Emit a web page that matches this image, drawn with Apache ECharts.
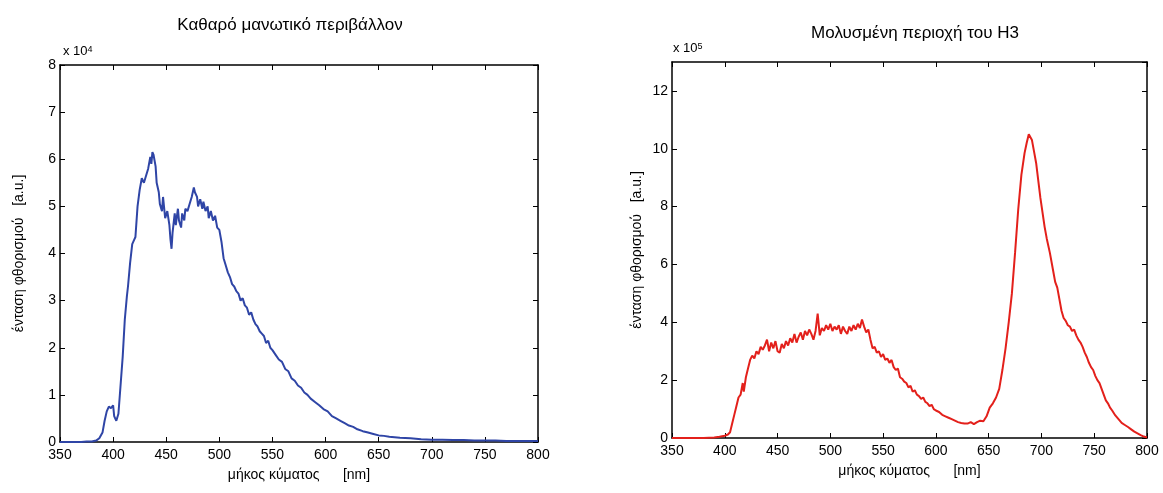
<!DOCTYPE html>
<html>
<head>
<meta charset="utf-8">
<script src="https://cdn.jsdelivr.net/npm/echarts@6/dist/echarts.min.js"></script>
<style>
  body { margin: 0; background: #fff; }
</style>
</head>
<body>
<div id="chart" style="width: 1163px; height: 493px;"></div>
<script>
// καθαρό περιβάλλον (x 10^4)
var cleanNm = [350, 360, 370, 375, 380, 384, 387, 390, 392, 394, 396, 398, 400, 401, 403, 405, 407, 409, 411, 413, 414, 416, 418, 420, 421, 423, 425, 427, 429, 431, 433, 435, 436, 437, 438, 440, 441, 443, 444, 446, 447, 449, 451, 453, 454, 455, 456, 458, 459, 461, 462, 464, 465, 467, 468, 470, 472, 474, 476, 477, 479, 480, 482, 484, 485, 487, 489, 490, 492, 494, 496, 498, 500, 502, 504, 506, 508, 510, 512, 514, 516, 518, 520, 522, 524, 526, 528, 530, 532, 534, 536, 538, 540, 542, 544, 546, 548, 550, 553, 556, 559, 562, 565, 568, 571, 574, 577, 580, 583, 586, 590, 594, 598, 602, 606, 610, 614, 618, 622, 626, 630, 635, 640, 645, 650, 655, 660, 665, 670, 680, 690, 700, 710, 720, 730, 740, 750, 760, 770, 780, 790, 800];
var cleanVal = [0, 0, 0, 0.01, 0.01, 0.03, 0.08, 0.2, 0.45, 0.65, 0.75, 0.72, 0.78, 0.55, 0.45, 0.6, 1.2, 1.8, 2.6, 3.1, 3.3, 3.8, 4.2, 4.3, 4.35, 5.0, 5.35, 5.6, 5.5, 5.65, 5.8, 6.05, 5.9, 6.15, 6.1, 5.85, 5.5, 5.3, 5.05, 4.9, 5.2, 4.75, 4.9, 4.6, 4.3, 4.1, 4.45, 4.85, 4.6, 4.95, 4.7, 4.55, 4.85, 4.7, 4.95, 4.9, 5.05, 5.2, 5.4, 5.3, 5.2, 5.0, 5.15, 4.95, 5.1, 4.9, 5.0, 4.75, 4.9, 4.7, 4.8, 4.55, 4.5, 4.25, 3.9, 3.75, 3.6, 3.5, 3.35, 3.3, 3.2, 3.15, 3.0, 3.05, 2.9, 2.85, 2.7, 2.75, 2.6, 2.5, 2.45, 2.35, 2.3, 2.25, 2.1, 2.15, 2.0, 1.95, 1.85, 1.75, 1.7, 1.55, 1.5, 1.35, 1.3, 1.2, 1.15, 1.05, 1.0, 0.92, 0.85, 0.78, 0.7, 0.65, 0.55, 0.5, 0.45, 0.4, 0.35, 0.32, 0.27, 0.23, 0.2, 0.17, 0.14, 0.13, 0.11, 0.1, 0.09, 0.08, 0.06, 0.05, 0.05, 0.04, 0.04, 0.03, 0.03, 0.03, 0.02, 0.02, 0.02, 0.02];

// μολυσμένη περιοχή (x 10^5)
var pollutedNm = [350, 360, 370, 380, 390, 395, 400, 403, 405, 407, 409, 411, 413, 415, 417, 418, 420, 422, 424, 426, 428, 430, 432, 434, 436, 438, 440, 442, 444, 446, 448, 450, 452, 454, 456, 458, 460, 462, 464, 466, 468, 470, 472, 474, 476, 478, 480, 482, 484, 486, 488, 490, 492, 494, 496, 498, 500, 502, 504, 506, 508, 510, 512, 514, 516, 518, 520, 522, 524, 526, 528, 530, 532, 534, 536, 538, 540, 542, 544, 546, 548, 550, 552, 554, 556, 558, 560, 562, 564, 566, 568, 570, 572, 574, 576, 578, 580, 582, 584, 586, 588, 590, 592, 594, 596, 598, 600, 603, 606, 609, 612, 615, 618, 621, 624, 627, 630, 633, 636, 639, 642, 645, 648, 651, 654, 657, 660, 663, 666, 669, 672, 675, 678, 681, 684, 686, 688, 689, 691, 693, 695, 697, 699, 701, 703, 705, 708, 711, 713, 715, 717, 719, 721, 723, 725, 727, 729, 731, 733, 735, 737, 739, 741, 743, 745, 747, 749, 751, 753, 755, 757, 759, 761, 763, 765, 767, 770, 773, 776, 779, 782, 785, 788, 791, 794, 797, 800];
var pollutedVal = [0, 0, 0, 0, 0.02, 0.04, 0.08, 0.12, 0.2, 0.5, 0.8, 1.1, 1.4, 1.5, 1.9, 1.6, 2.1, 2.4, 2.7, 2.85, 2.75, 3.0, 2.9, 3.15, 3.05, 3.2, 3.4, 3.0, 3.3, 3.1, 3.35, 3.0, 2.95, 3.25, 3.1, 3.35, 3.2, 3.45, 3.3, 3.6, 3.3, 3.5, 3.65, 3.4, 3.7, 3.55, 3.75, 3.6, 3.4, 3.7, 4.3, 3.55, 3.8, 3.7, 3.9, 3.75, 3.95, 3.7, 3.85, 3.75, 3.9, 3.6, 3.85, 3.7, 3.6, 3.85, 3.7, 3.9, 3.75, 3.95, 3.8, 4.1, 3.85, 3.65, 3.75, 3.4, 3.1, 3.15, 2.95, 3.0, 2.8, 2.9, 2.7, 2.75, 2.6, 2.7, 2.45, 2.35, 2.4, 2.1, 2.05, 1.95, 1.9, 1.75, 1.8, 1.6, 1.65, 1.5, 1.45, 1.35, 1.4, 1.25, 1.2, 1.1, 1.15, 1.0, 0.95, 0.9, 0.8, 0.75, 0.7, 0.65, 0.6, 0.55, 0.52, 0.5, 0.5, 0.55, 0.48, 0.55, 0.6, 0.58, 0.75, 1.05, 1.2, 1.4, 1.7, 2.35, 3.1, 4.0, 5.0, 6.4, 7.9, 9.1, 9.85, 10.2, 10.5, 10.55, 10.3, 9.9, 9.5, 8.9, 8.3, 7.8, 7.3, 6.9, 6.4, 5.8, 5.4, 5.2, 4.8, 4.4, 4.15, 4.05, 3.9, 3.85, 3.7, 3.75, 3.55, 3.4, 3.3, 3.15, 2.95, 2.8, 2.6, 2.45, 2.35, 2.15, 2.0, 1.9, 1.7, 1.5, 1.3, 1.2, 1.05, 0.95, 0.78, 0.65, 0.52, 0.45, 0.38, 0.3, 0.22, 0.16, 0.1, 0.05, 0.02];

var xTicks = [350, 400, 450, 500, 550, 600, 650, 700, 750, 800];
var titles = ['Καθαρό μανωτικό περιβάλλον', 'Μολυσμένη περιοχή του Η3'];
var xName = 'μήκος κύματος      [nm]';
var yName = 'ένταση φθορισμού   [a.u.]';

const font = 'Liberation Sans';

function pairs(xs, ys) {
  return xs.map((x, i) => [x, ys[i]]);
}

// άξονας x (κάτω) και ένας επάνω μόνο για τα tick
function xAxes(gridIndex) {
  return [
    {
      type: 'value', gridIndex: gridIndex, min: xTicks[0], max: xTicks[xTicks.length - 1], interval: 50,
      name: xName, nameLocation: 'middle', nameGap: 26,
      nameTextStyle: {color: '#000', fontFamily: font, fontSize: 14},
      axisLine: {show: true, onZero: false, lineStyle: {color: '#000', width: 1.5}},
      axisTick: {show: true, inside: true, length: 5, lineStyle: {color: '#000'}},
      axisLabel: {color: '#000', fontFamily: font, fontSize: 14, margin: 6},
      splitLine: {show: false}
    },
    {
      type: 'value', gridIndex: gridIndex, position: 'top', min: xTicks[0], max: xTicks[xTicks.length - 1], interval: 50,
      axisLine: {show: true, onZero: false, lineStyle: {color: '#000', width: 1.5}},
      axisTick: {show: true, inside: true, length: 5, lineStyle: {color: '#000'}},
      axisLabel: {show: false},
      splitLine: {show: false}
    }
  ];
}

function yAxes(gridIndex, max, interval, gap, showMax) {
  return [
    {
      type: 'value', gridIndex: gridIndex, min: 0, max: max, interval: interval,
      name: yName, nameLocation: 'middle', nameGap: gap, nameRotate: 90,
      nameTextStyle: {color: '#000', fontFamily: font, fontSize: 14},
      axisLine: {show: true, onZero: false, lineStyle: {color: '#000', width: 1.5}},
      axisTick: {show: true, inside: true, length: 5, lineStyle: {color: '#000'}},
      axisLabel: {color: '#000', fontFamily: font, fontSize: 14, margin: 4, showMaxLabel: showMax},
      splitLine: {show: false}
    },
    {
      type: 'value', gridIndex: gridIndex, position: 'right', min: 0, max: max, interval: interval,
      axisLine: {show: true, onZero: false, lineStyle: {color: '#000', width: 1.5}},
      axisTick: {show: true, inside: true, length: 5, lineStyle: {color: '#000'}},
      axisLabel: {show: false},
      splitLine: {show: false}
    }
  ];
}

var xs = xAxes(0).concat(xAxes(1));
var ys = yAxes(0, 8, 1, 34, true).concat(yAxes(1, 13, 2, 28, false));

var option = {
  backgroundColor: '#fff',
  animation: false,
  title: [
    {text: titles[0], left: 285, top: 12, textAlign: 'center',
     textStyle: {fontFamily: font, fontSize: 17, fontWeight: 'normal', color: '#000'}},
    {text: titles[1], left: 910, top: 20, textAlign: 'center',
     textStyle: {fontFamily: font, fontSize: 17, fontWeight: 'normal', color: '#000'}}
  ],
  grid: [
    {left: 60, top: 65, width: 478, height: 377},
    {left: 672, top: 62, width: 475, height: 376}
  ],
  xAxis: xs,
  yAxis: ys,
  graphic: [
    {type: 'text', left: 63, top: 45, style: {
      text: '{a|x 10}{s|4}', fill: '#000',
      rich: {a: {fontFamily: font, fontSize: 13, verticalAlign: 'bottom'},
             s: {fontFamily: font, fontSize: 9, verticalAlign: 'top'}}}},
    {type: 'text', left: 673, top: 42, style: {
      text: '{a|x 10}{s|5}', fill: '#000',
      rich: {a: {fontFamily: font, fontSize: 13, verticalAlign: 'bottom'},
             s: {fontFamily: font, fontSize: 9, verticalAlign: 'top'}}}}
  ],
  series: [
    {
      type: 'line', xAxisIndex: 0, yAxisIndex: 0, showSymbol: false,
      data: pairs(cleanNm, cleanVal),
      lineStyle: {color: '#2f45a6', width: 2}
    },
    {
      type: 'line', xAxisIndex: 2, yAxisIndex: 2, showSymbol: false,
      data: pairs(pollutedNm, pollutedVal),
      lineStyle: {color: '#e3201b', width: 2}
    }
  ]
};

const chartInstance = echarts.init(document.getElementById('chart'));
chartInstance.setOption(option);
</script>
</body>
</html>
